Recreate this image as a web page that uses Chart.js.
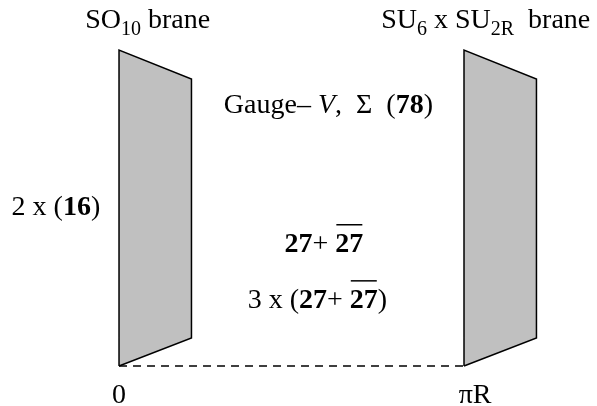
<!DOCTYPE html>
<html>
<head>
<meta charset="utf-8">
<script src="https://cdn.jsdelivr.net/npm/chart.js@4.4.1/dist/chart.umd.min.js"></script>
<style>
  html, body { margin: 0; padding: 0; background: #fff; }
</style>
</head>
<body>
<canvas id="braneChart" width="597" height="406"></canvas>
<script>
'use strict';

// positions along the extra dimension: 0 and pi*R
const braneSites = [0, 1];
const siteLabels = ['0', 'πR'];

// outline of one brane (drawn in perspective), relative to its site
const braneOutline = [
  { x: 0, y: 0 }, { x: 0, y: 1 }, { x: 0.21, y: 0.908 }, { x: 0.21, y: 0.089 }, { x: 0, y: 0 }
];

// bulk line between the branes
const bulkLine = [{ x: 0, y: 0 }, { x: 1, y: 0 }];

// text pieces: [text, flags]  b = bold, i = italic, s = subscript, o = overline
const braneNames = [
  [['SO'], ['10', 's'], [' brane']],
  [['SU'], ['6', 's'], [' x SU'], ['2R', 's'], ['  brane']]
];
const gaugeLabel = [['Gauge'], ['– '], ['V', 'i'], [',  Σ  ('], ['78', 'b'], [')']];
const leftMatter = [['2 x ('], ['16', 'b'], [')']];
const bulkHiggs = [['27', 'b'], ['+ '], ['27', 'bo']];
const bulkMatter = [['3 x ('], ['27', 'b'], ['+ '], ['27', 'bo'], [')']];

// anchor points for the texts (data units, centre / baseline)
const textAnchors = [
  { parts: braneNames[0], x: 0.083, y: 1.07 },
  { parts: braneNames[1], x: 1.063, y: 1.07 },
  { parts: gaugeLabel, x: 0.607, y: 0.80 },
  { parts: leftMatter, x: -0.183, y: 0.478 },
  { parts: bulkHiggs, x: 0.594, y: 0.361 },
  { parts: bulkMatter, x: 0.575, y: 0.1835 },
  { parts: [[siteLabels[0]]], x: braneSites[0], y: -0.117 },
  { parts: [[siteLabels[1]]], x: braneSites[1] + 0.032, y: -0.117 }
];

const fontSize = 28;
const serif = '"Liberation Serif", "Times New Roman", serif';

function partFont(flags) {
  const size = flags.includes('s') ? Math.round(fontSize * 0.7) : fontSize;
  return (flags.includes('i') ? 'italic ' : '') + (flags.includes('b') ? 'bold ' : '') + size + 'px ' + serif;
}

function drawRich(ctx, parts, cx, by) {
  const widths = parts.map(p => {
    ctx.font = partFont(p[1] || '');
    return ctx.measureText(p[0]).width;
  });
  const total = widths.reduce((a, b) => a + b, 0);
  let x = cx - total / 2;
  parts.forEach((p, i) => {
    const flags = p[1] || '';
    ctx.font = partFont(flags);
    const y = by + (flags.includes('s') ? fontSize * 0.27 : 0);
    ctx.fillText(p[0], x, y);
    if (flags.includes('o')) {
      ctx.beginPath();
      ctx.lineWidth = 1.5;
      ctx.moveTo(x + 1, by - fontSize * 0.97);
      ctx.lineTo(x + widths[i] - 1, by - fontSize * 0.97);
      ctx.stroke();
    }
    x += widths[i];
  });
}

const textPlugin = {
  id: 'diagramText',
  afterDatasetsDraw(chart) {
    const { ctx, scales } = chart;
    ctx.save();
    ctx.fillStyle = '#000';
    ctx.strokeStyle = '#000';
    ctx.textBaseline = 'alphabetic';
    ctx.textAlign = 'left';
    textAnchors.forEach(a => {
      drawRich(ctx, a.parts, scales.x.getPixelForValue(a.x), scales.y.getPixelForValue(a.y));
    });
    ctx.restore();
  }
};

const datasets = braneSites.map(site => ({
  data: braneOutline.map(p => ({ x: site + p.x, y: p.y })),
  showLine: true,
  fill: 'shape',
  backgroundColor: '#c0c0c0',
  borderColor: '#000',
  borderWidth: 1.5,
  pointRadius: 0,
  tension: 0
}));

datasets.unshift({
  data: bulkLine,
  showLine: true,
  fill: false,
  borderColor: '#000',
  borderWidth: 1.6,
  borderDash: [8, 6],
  pointRadius: 0
});

new Chart(document.getElementById('braneChart').getContext('2d'), {
  type: 'scatter',
  data: { datasets: datasets },
  options: {
    responsive: false,
    animation: false,
    layout: { padding: 0 },
    plugins: {
      legend: { display: false },
      tooltip: { enabled: false }
    },
    scales: {
      x: { type: 'linear', min: -0.345, max: 1.3855, display: false },
      y: { type: 'linear', min: -0.1266, max: 1.1582, display: false }
    }
  },
  plugins: [textPlugin]
});
</script>
</body>
</html>
